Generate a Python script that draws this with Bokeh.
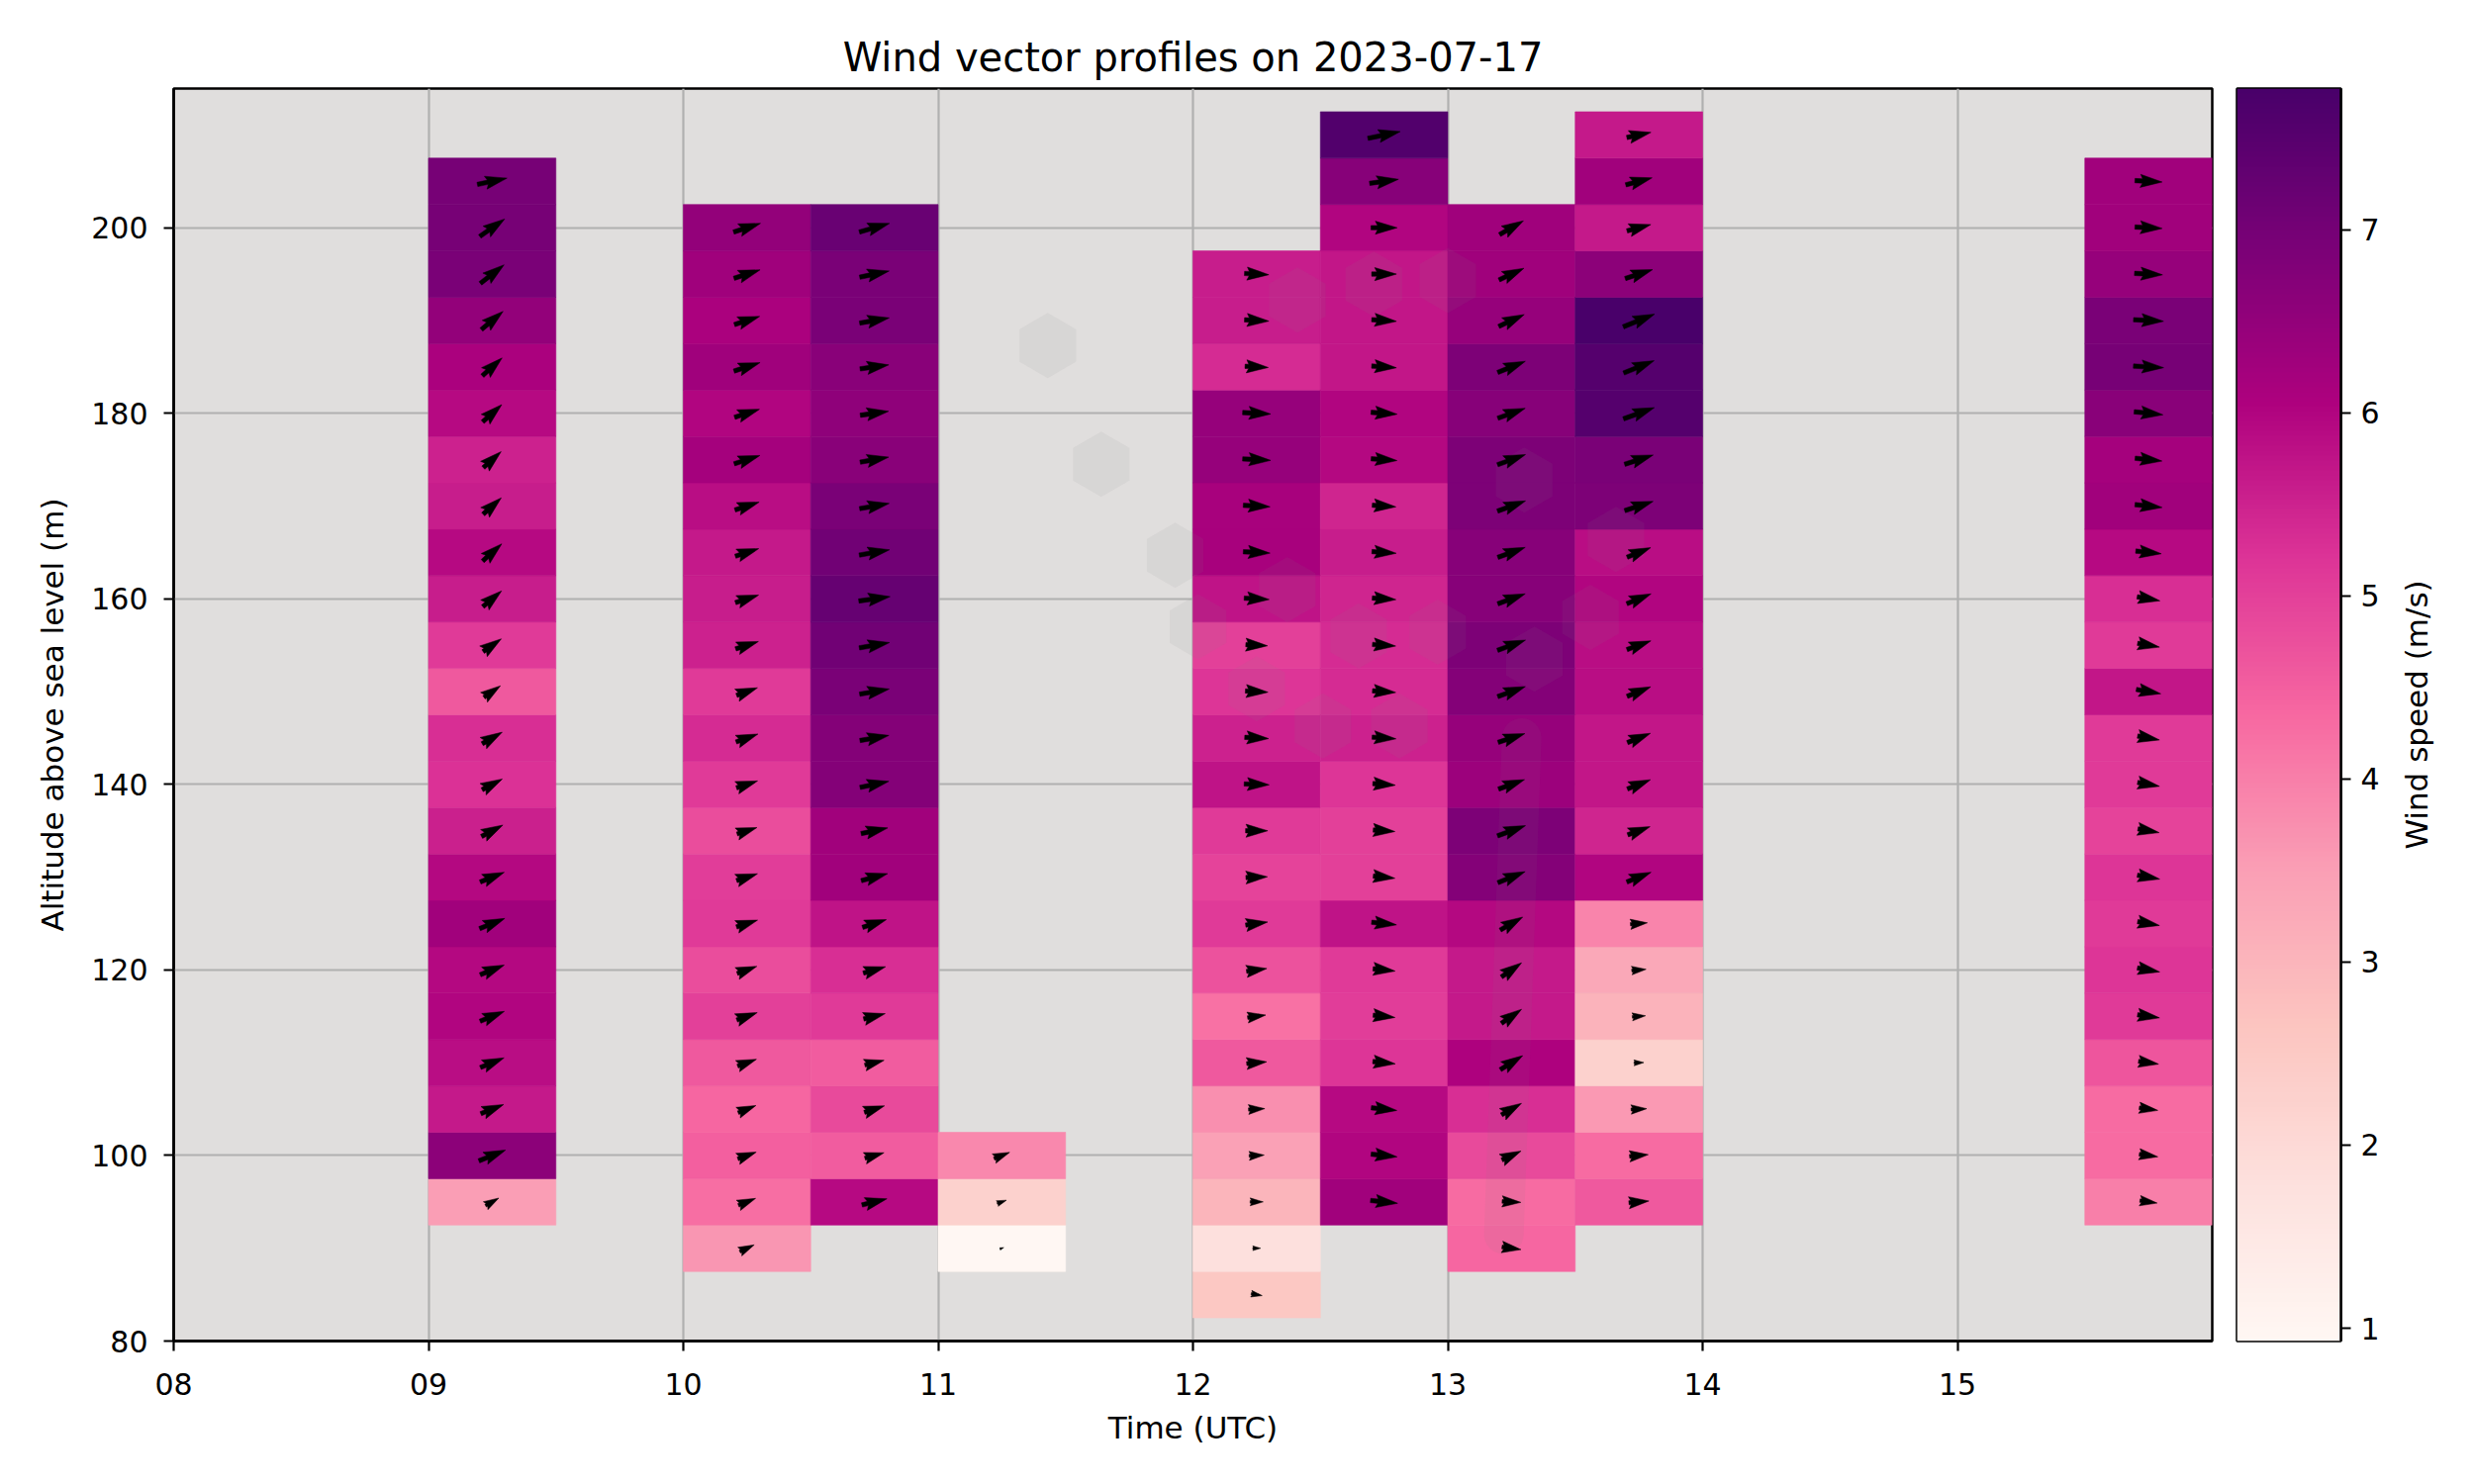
import numpy as np
from bokeh.plotting import figure
from bokeh.models import LinearColorMapper, ColumnDataSource, FixedTicker, Range1d
from bokeh.layouts import row
from bokeh.embed import file_html
from bokeh.resources import INLINE

# ---------------- texts ----------------
title_text = "Wind vector profiles on 2023-07-17"
x_label = "Time (UTC)"
y_label = "Altitude above sea level (m)"
cbar_label = "Wind speed (m/s)"

hour_ticks = [8, 9, 10, 11, 12, 13, 14, 15]
hour_labels = ["08", "09", "10", "11", "12", "13", "14", "15"]
alt_ticks = [80, 100, 120, 140, 160, 180, 200]
cbar_ticks = [1, 2, 3, 4, 5, 6, 7]

# ---------------- data ----------------
# start of each 30-min profile (hours UTC) and lowest bin centre (m)
profile_start = [9.0, 10.0, 10.5, 11.0, 12.0, 12.5, 13.0, 13.5, 15.5]
profile_lowest = [95, 90, 95, 90, 85, 95, 90, 95, 95]
bin_step = 5
profile_span = 0.5

# wind speed (m/s), lowest bin upward
spd_0900 = [3.5, 6.6, 5.65, 5.85, 6.0, 5.95, 6.25, 5.95, 5.55, 5.25, 5.3, 4.6,
            5.1, 5.6, 5.9, 5.6, 5.5, 5.9, 6.1, 6.5, 6.9, 6.95, 6.95]
spd_1000 = [3.65, 4.25, 4.5, 4.4, 4.6, 5.0, 4.8, 5.1, 5.05, 4.8, 5.1, 5.35,
            5.1, 5.5, 5.6, 5.65, 5.85, 6.2, 6.0, 6.3, 6.1, 6.3, 6.5]
spd_1030 = [5.9, 4.55, 4.85, 4.55, 5.1, 5.3, 5.75, 6.25, 6.25, 6.75, 6.75, 6.9,
            7.05, 7.25, 7.05, 6.9, 6.65, 6.55, 6.65, 6.9, 6.9, 7.2]
spd_1100 = [0.93, 2.25, 3.85]
spd_1200 = [2.55, 1.8, 3.0, 3.45, 3.75, 4.6, 4.2, 4.7, 5.1, 4.95, 5.1, 5.75,
            5.5, 5.2, 5.0, 5.75, 6.15, 6.15, 6.45, 6.45, 5.35, 5.6, 5.6]
spd_1230 = [6.25, 6.0, 5.9, 5.2, 5.05, 5.1, 5.75, 5.0, 5.0, 5.2, 5.5, 5.35,
            5.35, 5.45, 5.6, 5.45, 5.95, 6.0, 5.7, 5.7, 5.7, 6.0, 6.7, 7.6]
spd_1300 = [4.4, 4.3, 4.85, 5.3, 6.05, 5.65, 5.65, 5.95, 6.75, 6.85, 6.35, 6.45,
            6.75, 6.85, 6.7, 6.7, 6.85, 6.85, 6.7, 6.85, 6.45, 6.3, 6.3]
spd_1330 = [4.6, 4.3, 3.6, 2.25, 3.05, 3.3, 3.9, 6.0, 5.45, 5.7, 5.7, 5.85,
            5.85, 6.0, 5.85, 6.85, 6.9, 7.55, 7.55, 7.77, 6.6, 5.65, 6.25, 5.65]
spd_1530 = [4.0, 4.3, 4.3, 4.65, 5.1, 5.2, 5.1, 5.2, 4.95, 5.1, 5.1, 5.7,
            5.1, 5.3, 5.9, 6.25, 6.2, 6.65, 6.95, 6.9, 6.45, 6.25, 6.25]

# vector direction on the chart (degrees counter-clockwise from +x), lowest bin upward
ang_0900 = [30, 22, 22, 22, 22, 22, 22, 22, 28, 28, 30, 35, 35, 40, 42, 42, 42, 42,
            42, 40, 38, 35, 12]
ang_1000 = [25, 22, 20, 22, 20, 20, 20, 18, 18, 18, 18, 20, 20, 18, 18, 18, 18, 18,
            18, 18, 18, 18, 18]
ang_1030 = [14, 16, 18, 14, 14, 16, 18, 15, 12, 12, 10, 10, 10, 8, 10, 10, 10, 8,
            8, 10, 12, 16]
ang_1100 = [20, 20, 22]
ang_1200 = [-10, 0, 0, 3, 3, 5, 8, 8, 8, 2, 0, -2, -3, -3, -3, -3, -3, -3, -3, -3,
            -3, -3, -3]
ang_1230 = [-6, -6, -6, -6, -6, -6, -6, -6, -4, -4, -4, -4, -4, -4, -4, -4, -4, -4,
            -4, -4, 0, 0, 8, 12]
ang_1300 = [-8, -3, 25, 30, 32, 35, 35, 30, 22, 20, 20, 18, 20, 20, 20, 20, 20, 20,
            20, 22, 25, 25, 30]
ang_1330 = [5, 5, 3, 2, 5, 5, 5, 22, 20, 22, 22, 22, 20, 22, 22, 18, 18, 20, 22, 22,
            18, 15, 15, 12]
ang_1530 = [-8, -8, -8, -8, -8, -10, -10, -10, -10, -10, -10, -10, -10, -10, -6, -6,
            -6, -6, -3, -3, -3, -3, -3]

speed_profiles = [spd_0900, spd_1000, spd_1030, spd_1100, spd_1200,
                  spd_1230, spd_1300, spd_1330, spd_1530]
angle_profiles = [ang_0900, ang_1000, ang_1030, ang_1100, ang_1200,
                  ang_1230, ang_1300, ang_1330, ang_1530]

# faint hexagonal overlay marks (hour, altitude)
hex_hour = [11.43, 11.64, 11.93, 12.02, 12.41, 12.71, 12.37, 12.65, 12.51, 12.81,
            12.25, 12.96, 13.0, 13.3, 13.66, 13.56, 13.34]
hex_alt = [187.3, 174.5, 164.7, 157.0, 192.2, 193.9, 161.0, 156.0, 146.3, 146.3,
           150.3, 156.4, 194.3, 172.8, 166.4, 158.0, 153.5]
streak_hour = [13.22, 13.29]
streak_alt = [91.5, 145.0]

# ---------------- colour map (matplotlib RdPu) ----------------
rdpu_stops = ["#fff7f3", "#fde0dd", "#fcc5c0", "#fa9fb5", "#f768a1",
              "#dd3497", "#ae017e", "#7a0177", "#49006a"]


def interp_palette(stops, n=256):
    rgb = np.array([[int(s[i:i + 2], 16) for i in (1, 3, 5)] for s in stops], float)
    pos = np.linspace(0, 1, len(stops))
    t = np.linspace(0, 1, n)
    out = []
    for tt in t:
        c = [np.interp(tt, pos, rgb[:, k]) for k in range(3)]
        out.append("#%02x%02x%02x" % tuple(int(round(v)) for v in c))
    return out


palette = interp_palette(rdpu_stops)
all_speeds = [v for prof in speed_profiles for v in prof]
vmin, vmax = min(all_speeds), max(all_speeds)
mapper = LinearColorMapper(palette=palette, low=vmin, high=vmax)

# ---------------- geometry ----------------
X0, X1 = 8.0, 16.0
Y0, Y1 = 80.0, 215.0
FW, FH = 2060, 1266
px_per_x = FW / (X1 - X0)
px_per_y = FH / (Y1 - Y0)

FONT = "DejaVu Sans"

# cells
left, right, bottom, top, spd = [], [], [], [], []
xc, yc, ac = [], [], []
for t0, low, sp, an in zip(profile_start, profile_lowest, speed_profiles, angle_profiles):
    for i, (s, a) in enumerate(zip(sp, an)):
        alt = low + i * bin_step
        left.append(t0)
        right.append(t0 + profile_span)
        bottom.append(alt - bin_step / 2)
        top.append(alt + bin_step / 2)
        spd.append(s)
        xc.append(t0 + profile_span / 2)
        yc.append(alt)
        ac.append(a)

cells = ColumnDataSource(dict(left=left, right=right, bottom=bottom, top=top, spd=spd))

# quiver-style arrows (pivot middle), shapes built in screen pixels then mapped to data
K = 4.4       # px per m/s
W = 4.4       # shaft width in px
HL, HW, HAL = 5.0, 3.0, 4.5
xs_list, ys_list = [], []
for cx, cy, s, a in zip(xc, yc, spd, ac):
    L = K * s
    lw = L / W
    if lw >= HL:
        px = np.array([0, lw - HAL, lw - HL, lw, lw - HL, lw - HAL, 0])
        py = np.array([0.5, 0.5, HW / 2, 0, -HW / 2, -0.5, -0.5])
    else:
        sh = lw / HL
        px = sh * np.array([0, HL - HAL, 0, HL, 0, HL - HAL, 0])
        py = sh * np.array([0.5, 0.5, HW / 2, 0, -HW / 2, -0.5, -0.5])
    px = px * W - L / 2
    py = py * W
    th = np.deg2rad(a)
    rx = px * np.cos(th) - py * np.sin(th)
    ry = px * np.sin(th) + py * np.cos(th)
    xs_list.append(list(cx + rx / px_per_x))
    ys_list.append(list(cy + ry / px_per_y))

arrows = ColumnDataSource(dict(xs=xs_list, ys=ys_list))


def style_axis(ax, label_size="31px", tick_size="30px"):
    ax.axis_label_text_font = FONT
    ax.axis_label_text_font_size = label_size
    ax.axis_label_text_font_style = "normal"
    ax.axis_label_text_color = "black"
    ax.major_label_text_font = FONT
    ax.major_label_text_font_size = tick_size
    ax.major_label_text_color = "black"
    ax.major_tick_out = 10
    ax.major_tick_in = 0
    ax.major_tick_line_width = 2.2
    ax.major_tick_line_color = "black"
    ax.minor_tick_out = 0
    ax.minor_tick_in = 0
    ax.axis_line_color = "black"
    ax.axis_line_width = 2.5


# ---------------- main figure ----------------
p = figure(frame_width=FW, frame_height=FH,
           x_range=Range1d(X0, X1), y_range=Range1d(Y0, Y1),
           output_backend="svg", toolbar_location=None,
           min_border_left=175, min_border_right=10,
           min_border_top=89, min_border_bottom=110,
           background_fill_color="#e0dedd", border_fill_color="white")

p.title.text = title_text
p.title.align = "center"
p.title.text_font = FONT
p.title.text_font_size = "40px"
p.title.text_font_style = "normal"
p.title.text_color = "black"
p.title.standoff = 18

p.quad(left="left", right="right", bottom="bottom", top="top", source=cells,
       fill_color={"field": "spd", "transform": mapper},
       line_color={"field": "spd", "transform": mapper}, line_width=0.6)

p.scatter(hex_hour, hex_alt, marker="hex", size=66, angle=np.pi / 6,
          fill_color="#808080", fill_alpha=0.09, line_color=None)
p.line(streak_hour, streak_alt, line_width=40, line_color="#808080",
       line_alpha=0.08, line_cap="round")

p.patches(xs="xs", ys="ys", source=arrows, fill_color="black",
          line_color="black", line_width=0.5)

p.xaxis.ticker = FixedTicker(ticks=hour_ticks)
p.xaxis.major_label_overrides = {t: l for t, l in zip(hour_ticks, hour_labels)}
p.yaxis.ticker = FixedTicker(ticks=alt_ticks)
p.xaxis.axis_label = x_label
p.yaxis.axis_label = y_label
style_axis(p.xaxis[0])
style_axis(p.yaxis[0])
p.xaxis.major_label_standoff = 22
p.xaxis.axis_label_standoff = 12
p.yaxis.major_label_standoff = 16
p.yaxis.axis_label_standoff = 18

p.xgrid.ticker = FixedTicker(ticks=hour_ticks)
p.ygrid.ticker = FixedTicker(ticks=alt_ticks)
p.grid.grid_line_color = "#b0b0b0"
p.grid.grid_line_width = 2.2
p.outline_line_color = "black"
p.outline_line_width = 2.5
p.outline_line_alpha = 1.0

# ---------------- colour bar figure ----------------
grad = np.linspace(vmin, vmax, 512).reshape(-1, 1)
cb = figure(frame_width=105, frame_height=FH,
            x_range=Range1d(0, 1), y_range=Range1d(vmin, vmax),
            output_backend="svg", toolbar_location=None,
            y_axis_location="right",
            min_border_left=15, min_border_right=50,
            min_border_top=89, min_border_bottom=110,
            border_fill_color="white")
cb.image(image=[grad], x=0, y=vmin, dw=1, dh=vmax - vmin, color_mapper=mapper)
cb.xaxis.visible = False
cb.grid.visible = False
cb.yaxis.ticker = FixedTicker(ticks=cbar_ticks)
style_axis(cb.yaxis[0])
cb.yaxis.major_label_standoff = 10
cb.outline_line_color = "black"
cb.outline_line_width = 2.5

# ---------------- colour bar label (left axis of a slim figure) ----------------
lab = figure(frame_width=1, frame_height=FH,
             x_range=Range1d(0, 1), y_range=Range1d(vmin, vmax),
             output_backend="svg", toolbar_location=None,
             min_border_left=52, min_border_right=0,
             min_border_top=89, min_border_bottom=110,
             border_fill_color="white", background_fill_color="white")
lab.xaxis.visible = False
lab.grid.visible = False
lab.outline_line_color = None
lab.yaxis.ticker = FixedTicker(ticks=[])
lab.yaxis.axis_label = cbar_label
style_axis(lab.yaxis[0])
lab.yaxis.axis_line_color = None
lab.yaxis.major_tick_out = 0
lab.yaxis.axis_label_standoff = 8

layout = row(p, cb, lab, spacing=0)
open("out.html", "w").write(file_html(layout, INLINE))
